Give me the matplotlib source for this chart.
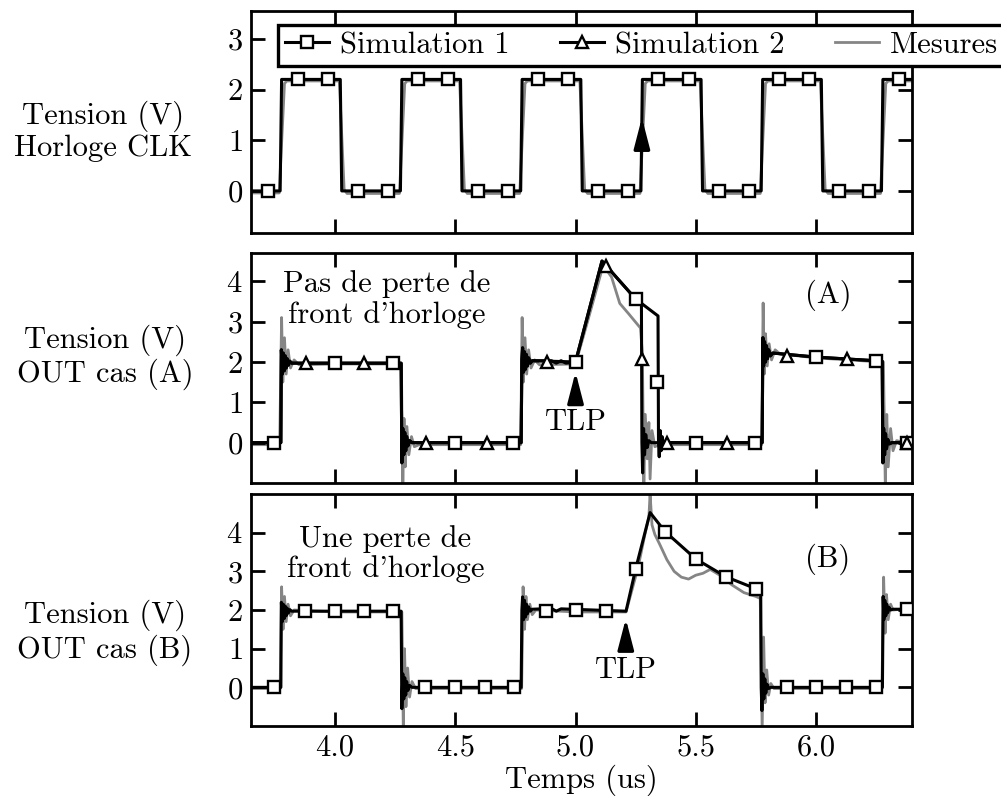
import numpy as np
import matplotlib
matplotlib.use('Agg')
from matplotlib import pyplot as plt
from matplotlib.lines import Line2D

plt.rcParams['font.family'] = 'serif'
plt.rcParams['font.serif'] = ['cmr10']
plt.rcParams['mathtext.fontset'] = 'cm'
plt.rcParams['axes.formatter.use_mathtext'] = True
plt.rcParams['font.size'] = 22

GRIS = '#858585'

# ---------------- Horloge CLK ----------------
clk_t = [3.65, 3.772, 3.778, 4.022, 4.028, 4.272, 4.278, 4.522, 4.528, 4.772, 4.778,
         5.022, 5.028, 5.272, 5.278, 5.522, 5.528, 5.772, 5.778, 6.022, 6.028, 6.272,
         6.278, 6.40]
clk_v = [0, 0, 2.2, 2.2, 0, 0, 2.2, 2.2, 0, 0, 2.2, 2.2, 0, 0, 2.2, 2.2, 0, 0, 2.2, 2.2,
         0, 0, 2.2, 2.2]
clk_mk_t = [3.72, 3.845, 3.97, 4.095, 4.22, 4.345, 4.47, 4.595, 4.72, 4.845, 4.97,
            5.095, 5.22, 5.345, 5.47, 5.595, 5.72, 5.845, 5.97, 6.095, 6.22, 6.345]
clk_mk_v = [0, 2.2, 2.2, 0, 0, 2.2, 2.2, 0, 0, 2.2, 2.2, 0, 0, 2.2, 2.2, 0, 0, 2.2, 2.2,
            0, 0, 2.2]
clk_mes_t = [3.65, 3.768, 3.79, 3.80, 4.018, 4.038, 4.05, 4.268, 4.29, 4.30, 4.518, 4.538,
             4.55, 4.768, 4.79, 4.80, 5.018, 5.038, 5.05, 5.268, 5.29, 5.30, 5.518, 5.538,
             5.55, 5.768, 5.79, 5.80, 6.018, 6.038, 6.05, 6.268, 6.29, 6.30, 6.40]
clk_mes_v = [-0.04, -0.04, 2.12, 2.17, 2.17, 0.03, -0.05, -0.05, 2.12, 2.17, 2.17, 0.03,
             -0.05, -0.05, 2.12, 2.17, 2.17, 0.03, -0.05, -0.05, 2.12, 2.17, 2.17, 0.03,
             -0.05, -0.05, 2.12, 2.17, 2.17, 0.03, -0.05, -0.05, 2.12, 2.17, 2.17]

# ---------------- OUT cas (A) ----------------
a_sim1_t = [3.65, 3.775, 3.777, 3.781, 3.785, 3.789, 3.793, 3.797, 3.801, 3.806, 3.812,
            3.82, 4.272, 4.275, 4.278, 4.282, 4.286, 4.290, 4.294, 4.298, 4.303, 4.31,
            4.32, 4.774, 4.777, 4.780, 4.784, 4.788, 4.792, 4.796, 4.800, 4.805, 4.812,
            4.82, 4.90, 4.92, 4.94, 4.96, 5.0, 5.11, 5.25, 5.343, 5.345, 5.348, 5.352,
            5.356, 5.36, 5.366, 5.375, 5.776, 5.779, 5.782, 5.786, 5.790, 5.794, 5.798,
            5.803, 5.81, 5.82, 6.0, 6.275, 6.278, 6.281, 6.285, 6.289, 6.293, 6.298, 6.305,
            6.315, 6.40]
a_sim1_v = [0, 0, 2.3, 1.7, 2.22, 1.78, 2.15, 1.85, 2.08, 1.92, 2.02,
            1.97, 1.97, 1.97, -0.5, 0.35, -0.3, 0.25, -0.2, 0.15, -0.08, 0.05,
            0, 0, 2.05, 2.35, 1.75, 2.25, 1.82, 2.18, 1.9, 2.1, 1.97,
            2.03, 2.03, 1.97, 2.03, 1.97, 2.0, 4.5, 3.56, 3.14, 0, -0.35, 0.3,
            -0.2, 0.15, -0.06, 0, 0, 2.6, 1.9, 2.5, 2.0, 2.4, 2.08, 2.3,
            2.15, 2.22, 2.12, 2.02, -0.5, 0.35, -0.3, 0.22, -0.15, 0.08, -0.03,
            0, 0]
a_sim2_t = [3.65, 3.775, 3.777, 3.781, 3.785, 3.789, 3.793, 3.797, 3.801, 3.806, 3.812,
            3.82, 4.272, 4.275, 4.278, 4.282, 4.286, 4.290, 4.294, 4.298, 4.303, 4.31,
            4.32, 4.774, 4.777, 4.780, 4.784, 4.788, 4.792, 4.796, 4.800, 4.805, 4.812,
            4.82, 5.0, 5.11, 5.25, 5.274, 5.276, 5.279, 5.283, 5.287, 5.292, 5.298, 5.305,
            5.315, 5.776, 5.779, 5.782, 5.786, 5.790, 5.794, 5.798, 5.803, 5.81, 5.82,
            6.0, 6.275, 6.278, 6.281, 6.285, 6.289, 6.293, 6.298, 6.305, 6.315, 6.40]
a_sim2_v = [0, 0, 2.3, 1.7, 2.22, 1.78, 2.15, 1.85, 2.08, 1.92, 2.02,
            1.97, 1.97, 1.97, -0.5, 0.35, -0.3, 0.25, -0.2, 0.15, -0.08, 0.05,
            0, 0, 2.05, 2.35, 1.75, 2.25, 1.82, 2.18, 1.9, 2.1, 1.97,
            2.03, 2.0, 4.5, 3.56, 3.5, 0, -0.75, 0.35, -0.3, 0.2, -0.12, 0.05,
            0, 0, 2.6, 1.9, 2.5, 2.0, 2.4, 2.08, 2.3, 2.15, 2.22,
            2.12, 2.02, -0.5, 0.35, -0.3, 0.22, -0.15, 0.08, -0.03, 0, 0]
a_mk1_t = [3.747, 4.0, 4.24, 4.5, 4.74, 5.0, 5.25, 5.34, 5.5, 5.745, 6.0, 6.25, 6.38]
a_mk1_v = [0, 1.97, 1.97, 0, 0, 2.0, 3.56, 1.5, 0, 0, 2.12, 2.03, 0]
a_mk2_t = [3.88, 4.12, 4.38, 4.63, 4.88, 5.127, 5.276, 5.38, 5.63, 5.88, 6.13, 6.38]
a_mk2_v = [1.98, 1.97, 0, 0, 2.0, 4.37, 2.07, 0, 0, 2.15, 2.07, 0]
a_mes_t = [3.65, 3.77, 3.778, 3.783, 3.79, 3.797, 3.805, 3.815, 3.83, 3.85, 4.0, 4.276,
           4.282, 4.287, 4.292, 4.299, 4.307, 4.318, 4.33, 4.35, 4.772, 4.778, 4.783,
           4.79, 4.797, 4.805, 4.815, 4.83, 4.85, 5.0, 5.05, 5.115, 5.15, 5.184, 5.22,
           5.27, 5.278, 5.284, 5.29, 5.298, 5.305, 5.31, 5.318, 5.33, 5.35, 5.774, 5.78,
           5.785, 5.79, 5.797, 5.805, 5.815, 5.83, 5.85, 6.0, 6.27, 6.28, 6.288, 6.294,
           6.30, 6.31, 6.32, 6.335, 6.40]
a_mes_v = [-0.05, -0.05, 3.1, 1.5, 2.6, 1.7, 2.3, 1.85, 2.05, 1.93, 1.95, 1.95,
           -1.1, 0.6, -0.6, 0.4, -0.3, 0.15, -0.1, -0.05, -0.05, 3.1, 1.5,
           2.6, 1.7, 2.3, 1.85, 2.05, 1.93, 1.95, 3.0, 4.4, 4.1, 3.45, 3.2,
           2.84, 2.2, -1.1, 0.7, -0.4, 0.5, -0.9, 0.3, -0.1, -0.05, -0.05, 3.46,
           1.7, 2.7, 1.9, 2.45, 2.05, 2.3, 2.2, 2.1, 2.0, 2.0, -1.1, 0.7,
           -0.6, 0.35, -0.2, 0.05, -0.05]

# ---------------- OUT cas (B) ----------------
b_sim_t = [3.65, 3.775, 3.777, 3.781, 3.785, 3.789, 3.793, 3.797, 3.801, 3.806, 3.812,
           3.82, 4.272, 4.275, 4.278, 4.282, 4.286, 4.290, 4.294, 4.298, 4.303, 4.31,
           4.32, 4.774, 4.777, 4.780, 4.784, 4.788, 4.792, 4.796, 4.800, 4.805, 4.812,
           4.82, 4.90, 4.92, 4.94, 5.21, 5.25, 5.31, 5.372, 5.5, 5.625, 5.75, 5.77,
           5.772, 5.775, 5.779, 5.783, 5.787, 5.791, 5.796, 5.803, 5.812, 6.276, 6.279,
           6.282, 6.286, 6.290, 6.294, 6.298, 6.303, 6.31, 6.32, 6.40]
b_sim_v = [0, 0, 2.2, 1.7, 2.15, 1.78, 2.1, 1.85, 2.05, 1.92, 2.01,
           1.97, 1.97, 1.97, -0.55, 0.35, -0.3, 0.25, -0.2, 0.15, -0.08, 0.05,
           0, 0, 2.0, 2.34, 1.75, 2.25, 1.82, 2.15, 1.9, 2.08, 1.97,
           2.02, 2.04, 1.97, 2.03, 1.97, 3.06, 4.52, 4.03, 3.32, 2.86, 2.55, 2.45,
           0, -0.6, 0.35, -0.3, 0.22, -0.15, 0.08, -0.03, 0, 0, 2.35,
           1.75, 2.25, 1.85, 2.15, 1.93, 2.07, 2.0, 2.02, 2.02]
b_mk_t = [3.747, 3.876, 4.0, 4.12, 4.24, 4.373, 4.5, 4.624, 4.745, 4.877, 5.0, 5.127,
          5.25, 5.372, 5.5, 5.625, 5.75, 5.88, 6.0, 6.125, 6.25, 6.38]
b_mk_v = [0, 1.97, 1.97, 1.97, 1.97, 0, 0, 0, 0, 1.98, 2.0, 1.97,
          3.06, 4.03, 3.32, 2.86, 2.55, 0, 0, 0, 0, 2.02]
b_mes_t = [3.65, 3.772, 3.778, 3.784, 3.79, 3.797, 3.805, 3.815, 3.83, 4.0, 4.278, 4.284,
           4.289, 4.295, 4.302, 4.31, 4.32, 4.335, 4.776, 4.782, 4.788, 4.794, 4.80,
           4.81, 4.82, 4.835, 5.0, 5.21, 5.26, 5.29, 5.305, 5.31, 5.318, 5.33, 5.35,
           5.38, 5.41, 5.44, 5.47, 5.50, 5.53, 5.56, 5.60, 5.65, 5.70, 5.75, 5.768,
           5.776, 5.782, 5.788, 5.795, 5.803, 5.812, 5.825, 6.274, 6.281, 6.287, 6.293,
           6.30, 6.31, 6.32, 6.40]
b_mes_v = [-0.03, -0.03, 2.6, 1.5, 2.35, 1.7, 2.15, 1.85, 2.0, 1.95, 1.95, -1.1,
           1.0, -0.5, 0.5, -0.25, 0.15, -0.03, -0.03, 2.6, 1.5, 2.35, 1.75,
           2.15, 1.88, 2.0, 1.95, 1.95, 3.1, 4.0, 4.4, 5.0, 4.2, 3.95, 3.7,
           3.3, 3.0, 2.85, 2.8, 2.9, 2.95, 3.05, 2.9, 2.65, 2.45, 2.35, 2.3,
           -1.1, 1.3, -0.4, 0.45, -0.2, 0.1, -0.03, -0.03, 2.85, 1.4, 2.4,
           1.75, 2.15, 2.0, 2.05]

xticks = [4.0, 4.5, 5.0, 5.5, 6.0]

fig = plt.figure(figsize=(10.01, 7.96), dpi=100)
ax1 = fig.add_axes([0.2508, 0.7073, 0.6603, 0.2789])
ax2 = fig.add_axes([0.2508, 0.3932, 0.6603, 0.2890])
ax3 = fig.add_axes([0.2508, 0.0879, 0.6603, 0.2915])

lw_sim = 2.2
lw_mes = 2.0
mk = dict(color='k', markerfacecolor='white', markeredgecolor='k', markeredgewidth=1.7,
          markersize=8, linestyle='none', zorder=4)
fleche = dict(arrowstyle='-|>,head_length=0.85,head_width=0.22', color='k', lw=2.4)

# panneau 1
ax1.plot(clk_mes_t, clk_mes_v, color=GRIS, lw=lw_mes, zorder=1)
ax1.plot(clk_t, clk_v, color='k', lw=lw_sim, zorder=2)
ax1.plot(clk_mk_t, clk_mk_v, marker='s', **mk)
ax1.set_ylim(-0.83, 3.55)
ax1.set_yticks([0, 1, 2, 3])
ax1.annotate('', xy=(5.276, 1.5), xytext=(5.276, 0.8), arrowprops=fleche)

# panneau 2
ax2.plot(a_mes_t, a_mes_v, color=GRIS, lw=lw_mes, zorder=1)
ax2.plot(a_sim2_t, a_sim2_v, color='k', lw=lw_sim, zorder=2)
ax2.plot(a_sim1_t, a_sim1_v, color='k', lw=lw_sim, zorder=2)
ax2.plot(a_mk1_t, a_mk1_v, marker='s', **mk)
ax2.plot(a_mk2_t, a_mk2_v, marker='^', **mk)
ax2.set_ylim(-1.0, 4.7)
ax2.set_yticks([0, 1, 2, 3, 4])
ax2.text(4.216, 3.55, 'Pas de perte de\nfront d\'horloge', ha='center', va='center',
         linespacing=1.12)
ax2.text(6.05, 3.65, '(A)', ha='center', va='center')
ax2.annotate('', xy=(5.0, 1.82), xytext=(5.0, 0.94), arrowprops=fleche)
ax2.text(5.0, 0.5, 'TLP', ha='center', va='center')

# panneau 3
ax3.plot(b_mes_t, b_mes_v, color=GRIS, lw=lw_mes, zorder=1)
ax3.plot(b_sim_t, b_sim_v, color='k', lw=lw_sim, zorder=2)
ax3.plot(b_mk_t, b_mk_v, marker='s', **mk)
ax3.set_ylim(-1.0, 5.0)
ax3.set_yticks([0, 1, 2, 3, 4])
ax3.text(4.21, 3.45, 'Une perte de\nfront d\'horloge', ha='center', va='center',
         linespacing=1.12)
ax3.text(6.05, 3.3, '(B)', ha='center', va='center')
ax3.annotate('', xy=(5.209, 1.85), xytext=(5.209, 0.88), arrowprops=fleche)
ax3.text(5.209, 0.45, 'TLP', ha='center', va='center')
ax3.set_xlabel('Temps (us)', labelpad=2)

for ax in (ax1, ax2, ax3):
    ax.set_xlim(3.651, 6.399)
    ax.set_xticks(xticks)
    ax.tick_params(direction='in', length=10, width=2, top=True, right=True, pad=6)
    for s in ax.spines.values():
        s.set_linewidth(2)
for ax in (ax1, ax2):
    ax.tick_params(labelbottom=False)
ax3.set_xticklabels(['4.0', '4.5', '5.0', '5.5', '6.0'])

fig.text(0.103, 0.835, 'Tension (V)\nHorloge CLK', ha='center', va='center',
         linespacing=1.12)
fig.text(0.105, 0.551, 'Tension (V)\nOUT cas (A)', ha='center', va='center',
         linespacing=1.12)
fig.text(0.105, 0.205, 'Tension (V)\nOUT cas (B)', ha='center', va='center',
         linespacing=1.12)

handles = [Line2D([], [], color='k', lw=lw_sim, marker='s', markerfacecolor='white',
                  markeredgewidth=1.7, markersize=8),
           Line2D([], [], color='k', lw=lw_sim, marker='^', markerfacecolor='white',
                  markeredgewidth=1.7, markersize=8),
           Line2D([], [], color=GRIS, lw=lw_mes)]
leg = ax1.legend(handles, ['Simulation 1', 'Simulation 2', 'Mesures'], ncol=3,
                 loc='upper left', bbox_to_anchor=(0.041, 0.937), borderaxespad=0,
                 frameon=True, fancybox=False, edgecolor='k', framealpha=1,
                 handlelength=1.45, handletextpad=0.35, columnspacing=1.65,
                 borderpad=0.22)
leg.get_frame().set_linewidth(2.4)
leg.set_zorder(10)

fig.savefig('out.png', dpi=100)
